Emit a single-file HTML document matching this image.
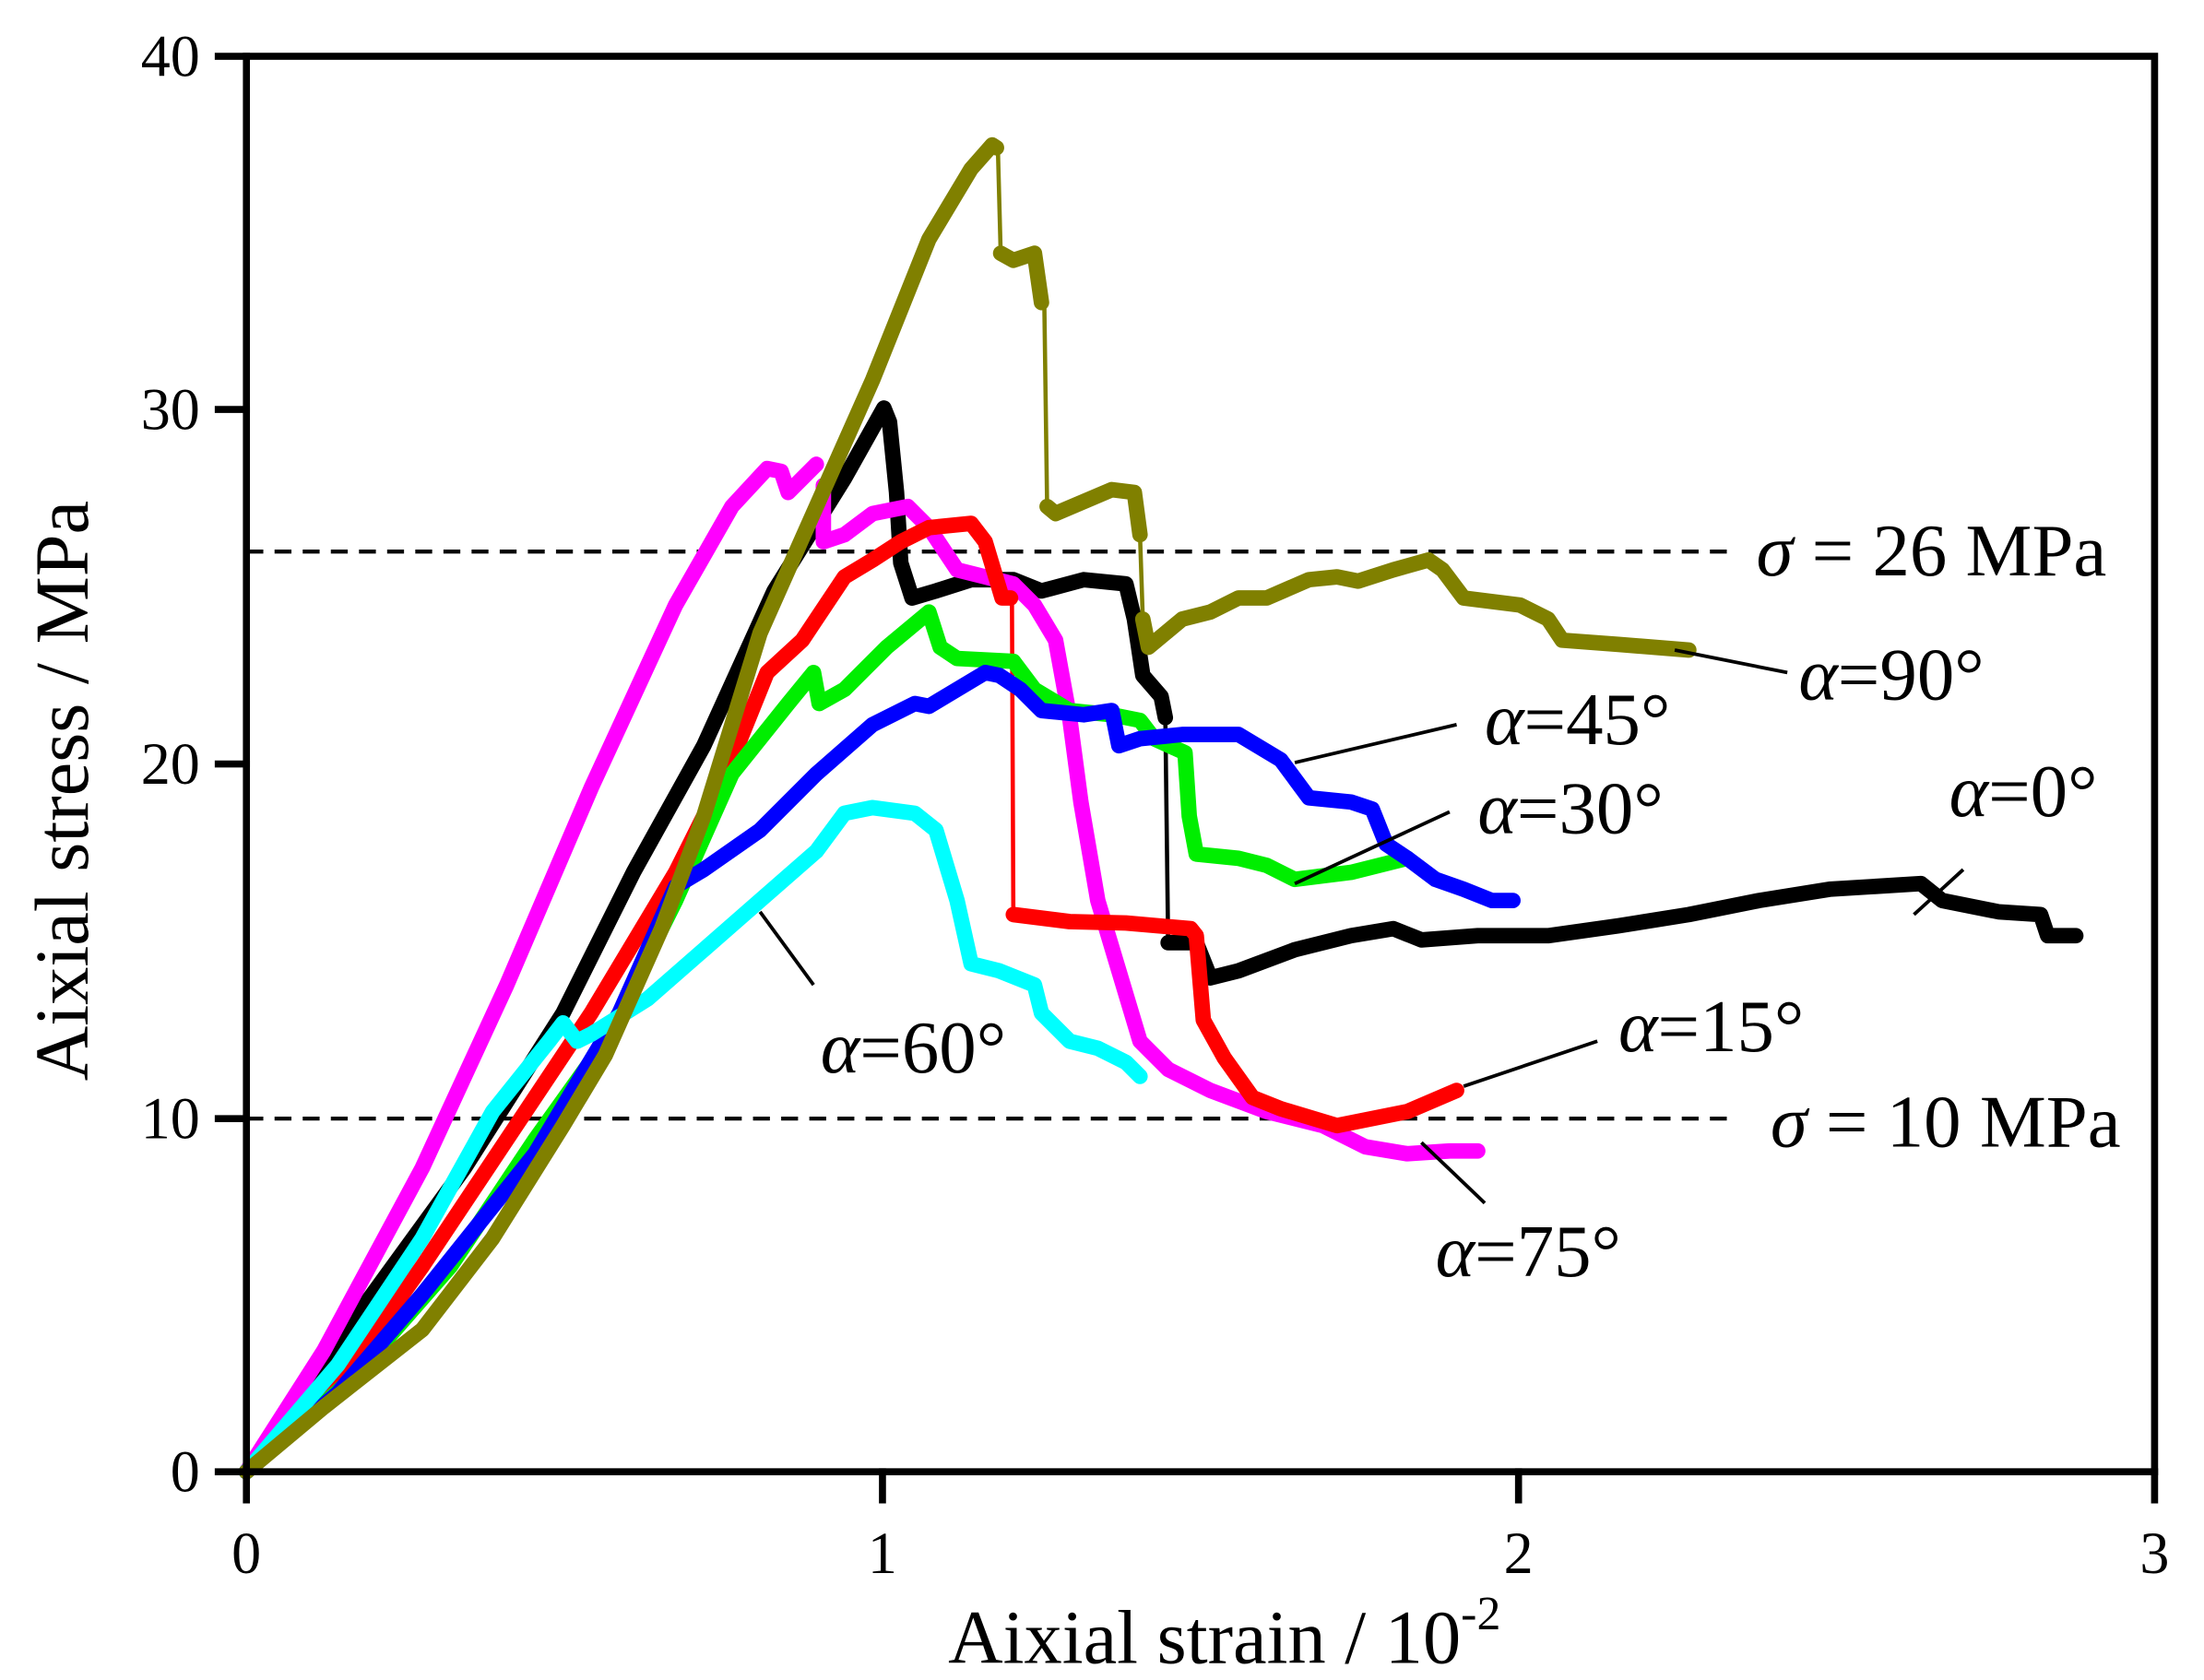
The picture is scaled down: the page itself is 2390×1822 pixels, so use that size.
<!DOCTYPE html>
<html><head><meta charset="utf-8"><style>html,body{margin:0;padding:0;background:#fff}svg{display:block}</style></head>
<body>
<svg width="2390" height="1822" viewBox="0 0 1566 1194" xmlns="http://www.w3.org/2000/svg" font-family="Liberation Serif, serif">
<rect width="1566" height="1194" fill="#fff"/>
<g stroke="#000" stroke-width="2.8" stroke-dasharray="12,8" fill="none">
<line x1="175" y1="392" x2="1235" y2="392"/>
<line x1="175" y1="795" x2="1235" y2="795"/>
</g>
<g fill="none" stroke-linejoin="round" stroke-linecap="round">
<polyline stroke="#000" stroke-width="11" points="175,1046 250,940 330,830 400,720 450,620 500,530 550,420 600,340 628,290 632,300 637,350 640,400 648,425 665,420 690,412 720,412 740,420 770,412 800,415 806,440 812,480 825,495 828,510"/>
<line x1="828" y1="510" x2="830" y2="670" stroke="#000" stroke-width="3"/>
<polyline stroke="#000" stroke-width="11" points="830,670 850,670 860,695 880,690 920,675 960,665 990,660 1010,668 1050,665 1100,665 1150,658 1200,650 1250,640 1300,632 1365,628 1380,640 1420,648 1450,650 1455,665 1475,665"/>
<polyline stroke="#ff00ff" stroke-width="11" points="175,1046 230,960 300,830 360,700 420,560 480,430 520,360 545,333 555,335 560,350 570,340 580,330"/>
<polyline stroke="#ff00ff" stroke-width="11" points="585,345 585,385 600,380 620,365 645,360 660,375 680,405 700,410 720,415 735,430 750,455 760,510 768,570 780,640 795,690 810,740 830,760 860,775 900,790 940,800 970,815 1000,820 1030,818 1050,818"/>
<polyline stroke="#ff0000" stroke-width="11" points="175,1046 250,970 300,900 360,810 420,720 480,620 520,540 545,478 570,455 600,410 620,398 640,385 660,375 690,372 700,385 712,425 718,425"/>
<line x1="719" y1="425" x2="720" y2="650" stroke="#ff0000" stroke-width="3"/>
<polyline stroke="#ff0000" stroke-width="11" points="720,650 760,655 800,656 846,660 850,665 855,725 870,752 890,780 910,788 950,800 1000,790 1035,775"/>
<polyline stroke="#00ee00" stroke-width="11" points="175,1046 250,980 320,900 380,810 430,740 480,640 520,550 560,500 578,478 582,500 600,490 630,460 660,435 668,460 680,468 720,470 735,490 760,505 790,508 810,512 820,525 842,535 845,580 850,607 880,610 900,615 920,625 960,620 1000,610"/>
<polyline stroke="#0000ff" stroke-width="11" points="175,1046 240,990 300,920 380,820 440,720 480,630 500,618 540,590 580,550 620,515 650,500 660,502 700,478 710,480 725,490 740,505 770,508 790,505 795,530 810,525 840,522 880,522 910,540 930,567 960,570 975,575 985,600 1000,610 1020,625 1040,632 1060,640 1075,640"/>
<polyline stroke="#00ffff" stroke-width="11" points="175,1046 240,970 300,880 350,790 390,740 400,727 410,740 420,735 460,710 500,675 540,640 580,605 600,578 620,574 650,578 665,590 680,640 690,685 710,690 735,700 740,720 760,740 780,745 800,755 810,765"/>
<polyline stroke="#808000" stroke-width="11" points="175,1046 230,1000 300,945 350,880 400,800 430,750 470,660 500,580 540,450 580,360 620,270 660,170 690,120 705,103 708,105"/>
<line x1="709" y1="105" x2="711" y2="180" stroke="#808000" stroke-width="3"/>
<polyline stroke="#808000" stroke-width="11" points="711,180 720,185 735,180 740,215"/>
<line x1="742" y1="215" x2="744" y2="360" stroke="#808000" stroke-width="3"/>
<polyline stroke="#808000" stroke-width="11" points="744,360 750,365 790,348 806,350 810,380"/>
<line x1="810" y1="380" x2="812" y2="440" stroke="#808000" stroke-width="3"/>
<polyline stroke="#808000" stroke-width="11" points="812,440 816,460 840,440 860,435 880,425 900,425 930,412 950,410 965,413 990,405 1015,398 1025,405 1040,425 1080,430 1100,440 1110,455 1150,458 1200,462"/>
</g>
<g stroke="#000" stroke-width="2.5">
<line x1="1190" y1="462" x2="1270" y2="478"/>
<line x1="920" y1="542" x2="1035" y2="515"/>
<line x1="920" y1="628" x2="1030" y2="577"/>
<line x1="1360" y1="650" x2="1395" y2="618"/>
<line x1="1040" y1="772" x2="1135" y2="740"/>
<line x1="540" y1="648" x2="578" y2="700"/>
<line x1="1010" y1="812" x2="1055" y2="855"/>
</g>
<g font-size="53" fill="#000">
<text x="1248" y="409"><tspan font-style="italic">σ</tspan> = 26 MPa</text>
<text x="1258" y="815"><tspan font-style="italic">σ</tspan> = 10 MPa</text>
<text x="1278" y="497"><tspan font-style="italic">α</tspan>=90°</text>
<text x="1055" y="529"><tspan font-style="italic">α</tspan>=45°</text>
<text x="1050" y="592"><tspan font-style="italic">α</tspan>=30°</text>
<text x="1385" y="580"><tspan font-style="italic">α</tspan>=0°</text>
<text x="1150" y="747"><tspan font-style="italic">α</tspan>=15°</text>
<text x="583" y="762"><tspan font-style="italic">α</tspan>=60°</text>
<text x="1020" y="907"><tspan font-style="italic">α</tspan>=75°</text>
</g>
<g stroke="#000" stroke-width="5" fill="none" stroke-linecap="square">
<rect x="175" y="40" width="1356" height="1006"/>
<line x1="155" y1="40" x2="175" y2="40"/>
<line x1="155" y1="291" x2="175" y2="291"/>
<line x1="155" y1="543" x2="175" y2="543"/>
<line x1="155" y1="795" x2="175" y2="795"/>
<line x1="155" y1="1046" x2="175" y2="1046"/>
<line x1="175" y1="1046" x2="175" y2="1066"/>
<line x1="627" y1="1046" x2="627" y2="1066"/>
<line x1="1079" y1="1046" x2="1079" y2="1066"/>
<line x1="1531" y1="1046" x2="1531" y2="1066"/>
</g>
<g font-size="42" fill="#000" text-anchor="end">
<text x="142" y="54">40</text>
<text x="142" y="305">30</text>
<text x="142" y="557">20</text>
<text x="142" y="809">10</text>
<text x="142" y="1060">0</text>
</g>
<g font-size="42" fill="#000" text-anchor="middle">
<text x="175" y="1118">0</text>
<text x="627" y="1118">1</text>
<text x="1079" y="1118">2</text>
<text x="1531" y="1118">3</text>
</g>
<text x="870" y="1182" font-size="54" text-anchor="middle">Aixial strain / 10<tspan font-size="34" dy="-24">-2</tspan></text>
<text transform="translate(62,562) rotate(-90)" font-size="54" text-anchor="middle">Aixial stress / MPa</text>
</svg>
</body></html>
